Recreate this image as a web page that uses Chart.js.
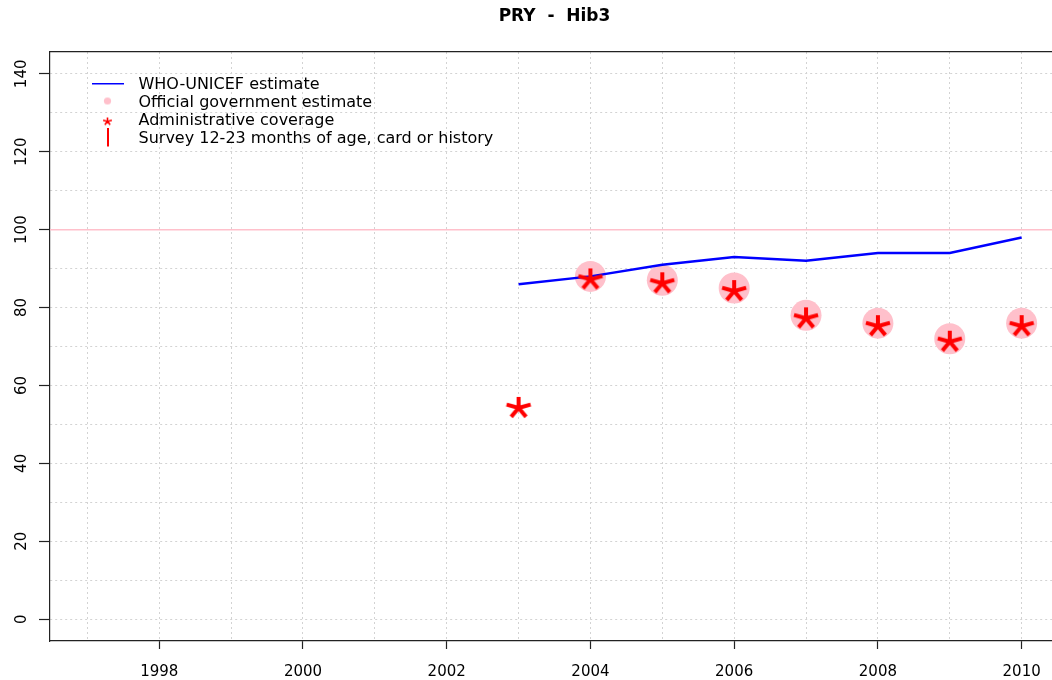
<!DOCTYPE html>
<html>
<head>
<meta charset="utf-8">
<title>PRY - Hib3</title>
<script src="https://cdn.jsdelivr.net/npm/chart.js@4.4.0/dist/chart.umd.min.js"></script>
<style>
  html, body { margin: 0; padding: 0; background: #fff; overflow: hidden; }
  canvas { display: block; }
</style>
</head>
<body>
<canvas id="chart" width="1059" height="680"></canvas>
<script>
// values
const years = [2003, 2004, 2005, 2006, 2007, 2008, 2009, 2010];
const whoUnicef = [86, 88, 91, 93, 92, 94, 94, 98];
const officialYears = [2004, 2005, 2006, 2007, 2008, 2009, 2010];
const officialValues = [88, 87, 85, 78, 76, 72, 76];
const adminValues = [55, 88, 87, 85, 78, 76, 72, 76];
const surveyValues = [];
const target = 100;

// axes
const xGridYears = [1997, 1998, 1999, 2000, 2001, 2002, 2003, 2004, 2005, 2006, 2007, 2008, 2009, 2010];
const xTickLabels = [1998, 2000, 2002, 2004, 2006, 2008, 2010];
const yGridValues = [0, 10, 20, 30, 40, 50, 60, 70, 80, 90, 100, 110, 120, 130, 140];
const yTickLabels = [0, 20, 40, 60, 80, 100, 120, 140];
const xMin = 1996.48, xMax = 2010.52;
const yMin = -5.6, yMax = 145.6;

const FONT = 'DejaVu Sans';
Chart.defaults.font.family = FONT;

// R style "*" marker, drawn once into a small canvas
function asterisk(r, lw, sx, dy) {
    const c = document.createElement('canvas');
    c.width = Math.ceil(2 * r * sx + lw * 2);
    c.height = Math.ceil(2 * r + lw * 2 + 2 * Math.abs(dy));
    const g = c.getContext('2d');
    g.strokeStyle = '#ff0000';
    g.lineWidth = lw;
    const cx = c.width / 2, cy = c.height / 2 + dy;
    g.beginPath();
    for (let k = 0; k < 5; k++) {
        const a = -Math.PI / 2 + k * 2 * Math.PI / 5;
        g.moveTo(cx, cy);
        g.lineTo(cx + Math.cos(a) * r * sx, cy + Math.sin(a) * r);
    }
    g.stroke();
    return c;
}

function box(w, h, draw) {
    const c = document.createElement('canvas');
    c.width = w; c.height = h;
    draw(c.getContext('2d'));
    return c;
}

const starMark = asterisk(11, 4, 1.15, 3);
const legendIcons = [
    box(32, 4, g => { g.fillStyle = '#0000ff'; g.fillRect(0, 0, 32, 2); }),
    box(9, 12, g => { g.fillStyle = '#ffc0cb'; g.beginPath(); g.arc(4.5, 4.5, 3.6, 0, Math.PI * 2); g.fill(); }),
    asterisk(4, 1.6, 1.15, 1),
    box(2, 22, g => { g.fillStyle = '#ff0000'; g.fillRect(0, 0, 2, 19); })
];

// put the legend inside the plot, top left
const legendInside = {
    id: 'legendInside',
    afterLayout(chart) {
        const lg = chart.legend;
        const pad = lg.options.labels.padding;
        lg.left = 84.5 - pad;
        lg.top = 76.5 - pad;
        lg.right = chart.chartArea.right;
        lg.bottom = chart.chartArea.bottom;
    }
};

const tickFont = { family: FONT, size: 15 };
const axisColor = '#222';
const gridColor = '#d3d3d3';

new Chart(document.getElementById('chart'), {
    type: 'line',
    data: {
        datasets: [
            {
                label: 'WHO-UNICEF estimate',
                data: years.map((x, i) => ({ x: x, y: whoUnicef[i] })),
                borderColor: '#0000ff',
                borderWidth: 2.5,
                pointRadius: 0,
                tension: 0,
                order: 1
            },
            {
                label: 'Official government estimate',
                data: officialYears.map((x, i) => ({ x: x, y: officialValues[i] })),
                showLine: false,
                pointStyle: 'circle',
                pointRadius: 15.5,
                pointBackgroundColor: '#ffc0cb',
                pointBorderWidth: 0,
                order: 2
            },
            {
                label: 'Administrative coverage',
                data: years.map((x, i) => ({ x: x, y: adminValues[i] })),
                showLine: false,
                pointStyle: starMark,
                pointRadius: 10,
                order: 0
            },
            {
                label: 'Survey 12-23 months of age, card or history',
                data: surveyValues,
                showLine: false,
                borderColor: '#ff0000',
                order: 0
            },
            {
                label: 'target',
                data: [{ x: xMin, y: target }, { x: xMax, y: target }],
                borderColor: '#ffc0cb',
                borderWidth: 1.5,
                pointRadius: 0,
                order: 3
            }
        ]
    },
    options: {
        responsive: false,
        animation: false,
        layout: { padding: 0, autoPadding: false },
        plugins: {
            title: {
                display: true,
                text: 'PRY  -  Hib3',
                fullSize: false,
                color: '#000',
                font: { family: FONT, size: 17, weight: 'bold' },
                padding: { top: 6, bottom: 25.6 }
            },
            legend: {
                position: 'chartArea',
                align: 'start',
                labels: {
                    usePointStyle: true,
                    pointStyleWidth: 46,
                    padding: 2,
                    color: '#000',
                    font: { family: FONT, size: 16 },
                    generateLabels: chart => chart.data.datasets.slice(0, 4).map((ds, i) => ({
                        text: ds.label,
                        pointStyle: legendIcons[i],
                        fillStyle: 'rgba(0,0,0,0)',
                        strokeStyle: 'rgba(0,0,0,0)',
                        lineWidth: 0,
                        hidden: false,
                        fontColor: '#000',
                        datasetIndex: i
                    }))
                }
            },
            tooltip: { enabled: false }
        },
        scales: {
            x: {
                type: 'linear',
                min: xMin,
                max: xMax,
                afterBuildTicks: s => { s.ticks = xGridYears.map(v => ({ value: v })); },
                afterFit: s => { s.height = 39; s.paddingLeft = 0; s.paddingRight = 0; },
                ticks: {
                    autoSkip: false,
                    maxRotation: 0,
                    padding: 14,
                    color: '#000',
                    font: tickFont,
                    callback: v => xTickLabels.includes(v) ? String(v) : ''
                },
                grid: {
                    color: gridColor,
                    lineWidth: 1,
                    tickLength: 8,
                    tickWidth: 1.2,
                    tickColor: c => (c.tick && xTickLabels.includes(c.tick.value)) ? axisColor : 'rgba(0,0,0,0)'
                },
                border: { color: axisColor, width: 1.2, dash: [2, 3] }
            },
            xTop: {
                type: 'linear',
                position: 'top',
                min: xMin,
                max: xMax,
                display: true,
                afterFit: s => { s.height = 0; s.paddingLeft = 0; s.paddingRight = 0; },
                ticks: { display: false },
                grid: { drawOnChartArea: false, drawTicks: false, color: 'rgba(0,0,0,0)' },
                border: { display: true, color: axisColor, width: 1.2 }
            },
            y: {
                type: 'linear',
                min: yMin,
                max: yMax,
                afterBuildTicks: s => { s.ticks = yGridValues.map(v => ({ value: v })); },
                afterFit: s => { s.width = 50; },
                ticks: {
                    autoSkip: false,
                    minRotation: 90,
                    maxRotation: 90,
                    crossAlign: 'center',
                    padding: 3,
                    color: '#000',
                    font: tickFont,
                    callback: v => yTickLabels.includes(v) ? String(v) : ''
                },
                grid: {
                    color: gridColor,
                    lineWidth: 1,
                    tickLength: 11,
                    tickWidth: 1.2,
                    tickColor: c => (c.tick && yTickLabels.includes(c.tick.value)) ? axisColor : 'rgba(0,0,0,0)'
                },
                border: { color: axisColor, width: 1.2, dash: [2, 3] }
            }
        }
    },
    plugins: [legendInside]
});
</script>
</body>
</html>
